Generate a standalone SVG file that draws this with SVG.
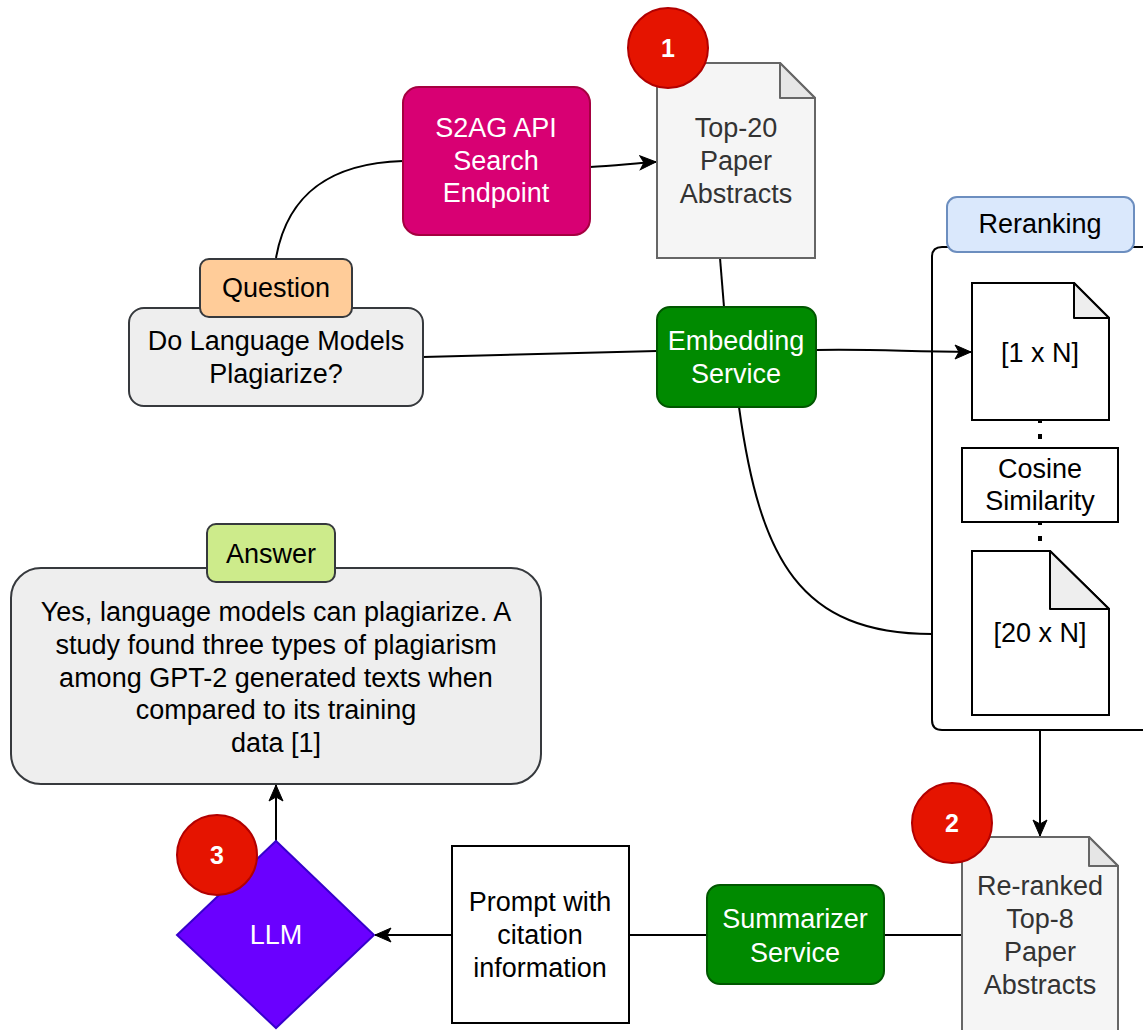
<svg xmlns="http://www.w3.org/2000/svg" width="1143" height="1030" viewBox="0 0 1143 1030">
  <style>
    text { font-family: "Liberation Sans", Arial, Helvetica, sans-serif; font-size: 27px; text-anchor: middle; fill: #000000; }
    .white { fill: #ffffff; }
    .grey { fill: #333333; }
    .badge-num { fill: #ffffff; font-weight: bold; font-size: 25px; }
    .edge { fill: none; stroke: #000000; stroke-width: 2; }
    .badge { fill: #e51400; stroke: #b20000; stroke-width: 2; }
    .note-grey { fill: #f5f5f5; stroke: #666666; stroke-width: 2; }
    .fold-grey { fill: #e6e6e6; stroke: #666666; stroke-width: 2; stroke-linejoin: round; }
    .note-white { fill: #ffffff; stroke: #000000; stroke-width: 2; }
    .fold-white { fill: #eeeeee; stroke: #000000; stroke-width: 2; stroke-linejoin: round; }
    .service { fill: #008a00; stroke: #005700; stroke-width: 2; }
    .plain { fill: #ffffff; stroke: #000000; stroke-width: 2; }
    .card { fill: #eeeeee; stroke: #36393d; stroke-width: 2; }
  </style>
  <defs>
    <marker id="arrow" markerUnits="userSpaceOnUse" markerWidth="18" markerHeight="16" refX="17" refY="8" orient="auto">
      <path d="M1,1 L17,8 L1,15 L5,8 Z" fill="#000000" stroke="#000000" stroke-width="1"/>
    </marker>
  </defs>

  <!-- Reranking container (drawn first, sits behind its contents) -->
  <g id="reranking">
    <path d="M1160,247 H942 Q932,247 932,257 V720 Q932,730 942,730 H1160" fill="#ffffff" stroke="#000000" stroke-width="2"/>
    <rect x="947" y="197" width="187" height="55" rx="10" fill="#dae8fc" stroke="#6c8ebf" stroke-width="2"/>
    <text x="1040" y="233">Reranking</text>
  </g>

  <!-- Connectors -->
  <g id="connectors">
    <path class="edge" d="M276,258 C288,190 335,163 403,161"/>
    <path class="edge" d="M590,167 C615,166 635,163 656,162" marker-end="url(#arrow)"/>
    <path class="edge" d="M720,258 L724,307"/>
    <path class="edge" d="M423,357 L657,351"/>
    <path class="edge" d="M816,350 C885,349 905,352 971,352" marker-end="url(#arrow)"/>
    <path class="edge" d="M739,407 C760,560 800,634 932,634"/>
    <path class="edge" d="M1040,730 L1040,836" marker-end="url(#arrow)"/>
    <path class="edge" d="M962,935 L884,935"/>
    <path class="edge" d="M707,935 L629,935"/>
    <path class="edge" d="M452,935 L375,935" marker-end="url(#arrow)"/>
    <path class="edge" d="M276,841 L276,785" marker-end="url(#arrow)"/>
    <!-- dotted links between the vectors and the similarity step -->
    <rect x="1038" y="418" width="4" height="5" fill="#000000"/>
    <rect x="1038" y="434" width="4" height="5" fill="#000000"/>
    <rect x="1038" y="520" width="4" height="5" fill="#000000"/>
    <rect x="1038" y="536" width="4" height="5" fill="#000000"/>
  </g>

  <g id="s2ag">
    <rect x="403" y="87" width="187" height="148" rx="16" fill="#d80073" stroke="#a50040" stroke-width="2"/>
    <text class="white" x="496" y="137">S2AG API</text>
    <text class="white" x="496" y="170">Search</text>
    <text class="white" x="496" y="202">Endpoint</text>
  </g>

  <g id="top20">
    <path class="note-grey" d="M657,63 H780 L815,98 V258 H657 Z"/>
    <path class="fold-grey" d="M780,63 V98 H815 Z"/>
    <text class="grey" x="736" y="137">Top-20</text>
    <text class="grey" x="736" y="170">Paper</text>
    <text class="grey" x="736" y="203">Abstracts</text>
  </g>

  <g id="badge1">
    <circle class="badge" cx="668" cy="48" r="40"/>
    <text class="badge-num" x="668" y="57">1</text>
  </g>

  <g id="question">
    <rect class="card" x="129" y="308" width="294" height="98" rx="15"/>
    <rect x="200" y="259" width="152" height="58" rx="9" fill="#ffcc99" stroke="#36393d" stroke-width="2"/>
    <text x="276" y="297">Question</text>
    <text x="276" y="350">Do Language Models</text>
    <text x="276" y="383">Plagiarize?</text>
  </g>

  <g id="embedding">
    <rect class="service" x="657" y="307" width="159" height="100" rx="13"/>
    <text class="white" x="736" y="350">Embedding</text>
    <text class="white" x="736" y="383">Service</text>
  </g>

  <g id="vector1">
    <path class="note-white" d="M972,283 H1074 L1109,318 V420 H972 Z"/>
    <path class="fold-white" d="M1074,283 V318 H1109 Z"/>
    <text x="1040" y="362">[1 x N]</text>
  </g>

  <g id="cosine">
    <rect class="plain" x="962" y="448" width="156" height="74"/>
    <text x="1040" y="478">Cosine</text>
    <text x="1040" y="510">Similarity</text>
  </g>

  <g id="vector20">
    <path class="note-white" d="M972,551 H1050 L1109,609 V715 H972 Z"/>
    <path class="fold-white" d="M1050,551 V609 H1109 Z"/>
    <text x="1040" y="642">[20 x N]</text>
  </g>

  <g id="reranked">
    <path class="note-grey" d="M962,837 H1089 L1118,866 V1040 H962 Z"/>
    <path class="fold-grey" d="M1089,837 V866 H1118 Z"/>
    <text class="grey" x="1040" y="895">Re-ranked</text>
    <text class="grey" x="1040" y="928">Top-8</text>
    <text class="grey" x="1040" y="961">Paper</text>
    <text class="grey" x="1040" y="994">Abstracts</text>
  </g>

  <g id="badge2">
    <circle class="badge" cx="952" cy="823" r="40"/>
    <text class="badge-num" x="952" y="832">2</text>
  </g>

  <g id="summarizer">
    <rect class="service" x="707" y="885" width="177" height="99" rx="13"/>
    <text class="white" x="795" y="928">Summarizer</text>
    <text class="white" x="795" y="962">Service</text>
  </g>

  <g id="prompt">
    <rect class="plain" x="452" y="846" width="177" height="177"/>
    <text x="540" y="911">Prompt with</text>
    <text x="540" y="944">citation</text>
    <text x="540" y="977">information</text>
  </g>

  <g id="llm">
    <path d="M276,841 L374,935 L276,1028 L177,935 Z" fill="#6a00ff" stroke="#3700cc" stroke-width="2"/>
    <text class="white" x="276" y="944">LLM</text>
  </g>

  <g id="badge3">
    <circle class="badge" cx="217" cy="855" r="40"/>
    <text class="badge-num" x="217" y="864">3</text>
  </g>

  <g id="answer">
    <rect class="card" x="11" y="568" width="530" height="216" rx="30"/>
    <rect x="207" y="524" width="128" height="58" rx="9" fill="#cdeb8b" stroke="#36393d" stroke-width="2"/>
    <text x="271" y="563">Answer</text>
    <text x="276" y="621">Yes, language models can plagiarize. A</text>
    <text x="276" y="654">study found three types of plagiarism</text>
    <text x="276" y="687">among GPT-2 generated texts when</text>
    <text x="276" y="719">compared to its training</text>
    <text x="276" y="752">data [1]</text>
  </g>
</svg>
